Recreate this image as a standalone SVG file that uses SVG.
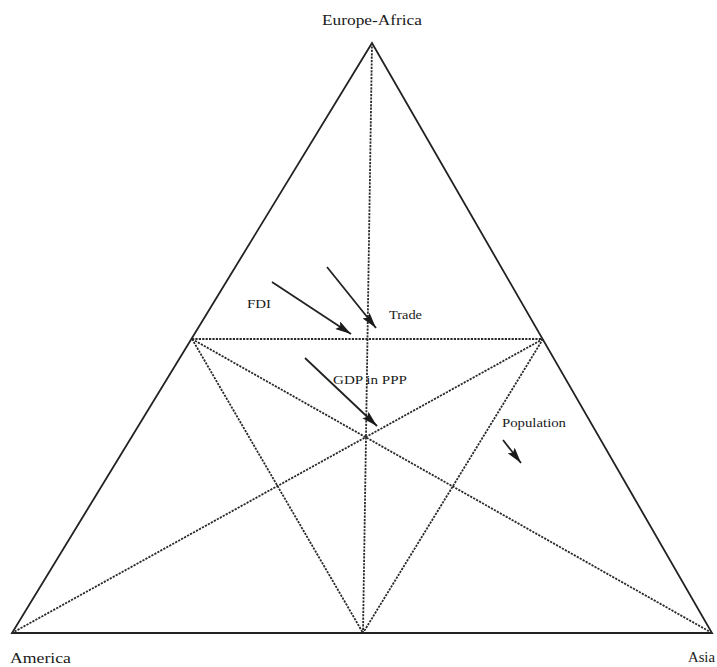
<svg xmlns="http://www.w3.org/2000/svg" width="717" height="667" viewBox="0 0 717 667">
<style>
.t{font-family:"Liberation Serif",serif;fill:#1a1a1a}
.solid{stroke:#222;stroke-width:1.8;fill:none}
.dot{stroke:#2a2a2a;stroke-width:1.8;stroke-dasharray:2.2,1.2;fill:none}
.arr{stroke:#222;stroke-width:1.8;fill:none;marker-end:url(#ah)}
</style>
<defs>
<marker id="ah" viewBox="0 0 16 9" refX="16" refY="4.5" markerWidth="16" markerHeight="9" markerUnits="userSpaceOnUse" orient="auto">
<path d="M0,0 L16,4.5 L0,9 L3,4.5 Z" fill="#1a1a1a"/>
</marker>
</defs>
<g id="connectors">
<path class="solid" d="M372,43 L12,633 L712,633 Z"/>
<line class="dot" x1="372" y1="43" x2="363" y2="633" stroke-dasharray="3,0.8"/>
<line class="dot" x1="192" y1="339" x2="543" y2="339"/>
<line class="dot" x1="192" y1="339" x2="363" y2="633"/>
<line class="dot" x1="543" y1="339" x2="363" y2="633"/>
<line class="dot" x1="192" y1="339" x2="712" y2="633"/>
<line class="dot" x1="543" y1="339" x2="12" y2="633"/>
<line class="arr" x1="272" y1="282" x2="351" y2="334"/>
<line class="arr" x1="327" y1="267" x2="376" y2="328"/>
<line class="arr" x1="305" y1="358" x2="377" y2="426"/>
<line class="arr" x1="503" y1="440" x2="521" y2="463"/>
</g>
<g id="europe-africa"><text class="t" x="372" y="25" font-size="15" text-anchor="middle" textLength="100" lengthAdjust="spacingAndGlyphs">Europe-Africa</text></g>
<g id="america"><text class="t" x="10" y="663" font-size="14" textLength="61" lengthAdjust="spacingAndGlyphs">America</text></g>
<g id="asia"><text class="t" x="688" y="662" font-size="14" textLength="27" lengthAdjust="spacingAndGlyphs">Asia</text></g>
<g id="fdi"><text class="t" x="247" y="308" font-size="12.5" textLength="24" lengthAdjust="spacingAndGlyphs">FDI</text></g>
<g id="trade"><text class="t" x="389" y="319" font-size="12.5" textLength="33" lengthAdjust="spacingAndGlyphs">Trade</text></g>
<g id="gdp"><text class="t" x="333" y="384" font-size="13" textLength="74" lengthAdjust="spacingAndGlyphs">GDP in PPP</text></g>
<g id="population"><text class="t" x="502" y="427" font-size="12.5" textLength="64" lengthAdjust="spacingAndGlyphs">Population</text></g>
</svg>
